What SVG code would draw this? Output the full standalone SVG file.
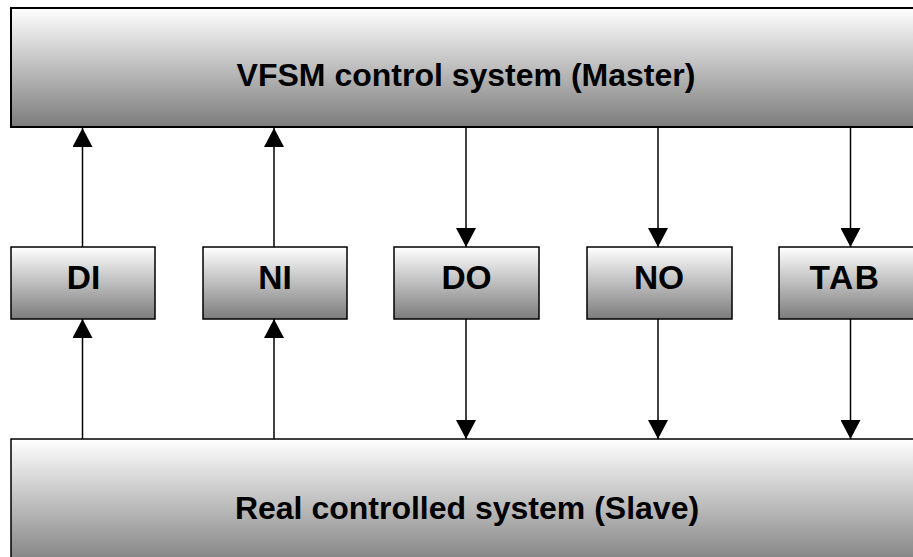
<svg xmlns="http://www.w3.org/2000/svg" width="913" height="557" viewBox="0 0 913 557">
  <defs>
    <linearGradient id="g" x1="0" y1="0" x2="0" y2="1">
      <stop offset="0" stop-color="#ffffff"/>
      <stop offset="1" stop-color="#7c7c7c"/>
    </linearGradient>
    <marker id="ah" viewBox="0 0 19 20" refX="19" refY="10" markerWidth="19" markerHeight="20" markerUnits="userSpaceOnUse" orient="auto">
      <path d="M0,0 L19,10 L0,20 z" fill="#000"/>
    </marker>
    <style>
      .box { fill: url(#g); stroke: #000; stroke-width: 1.5; }
      .big { fill: url(#g); stroke: #000; stroke-width: 2; }
      .lbl { font-family: "Liberation Sans", Arial, sans-serif; font-weight: bold; font-size: 32px; fill: #000; text-anchor: middle; }
      .sm { font-size: 33.5px; }
      .c { stroke: #000; stroke-width: 1.5; fill: none; marker-end: url(#ah); }
    </style>
  </defs>
  <rect width="913" height="557" fill="#fff"/>
  <g id="master">
    <rect class="big" x="11" y="8" width="920" height="119"/>
    <text class="lbl" x="466" y="86">VFSM control system (Master)</text>
  </g>
  <g id="slave">
    <rect class="box" x="11" y="439" width="920" height="130"/>
    <text class="lbl" x="467" y="519">Real controlled system (Slave)</text>
  </g>
  <g id="DI">
    <rect class="box" x="11" y="247" width="144" height="72"/>
    <text class="lbl sm" x="83.5" y="289">DI</text>
  </g>
  <g id="NI">
    <rect class="box" x="203" y="247" width="144" height="72"/>
    <text class="lbl sm" x="275" y="289">NI</text>
  </g>
  <g id="DO">
    <rect class="box" x="394" y="247" width="145" height="72"/>
    <text class="lbl sm" x="466.5" y="289">DO</text>
  </g>
  <g id="NO">
    <rect class="box" x="587" y="247" width="145" height="72"/>
    <text class="lbl sm" x="659" y="289">NO</text>
  </g>
  <g id="TAB">
    <rect class="box" x="779" y="247" width="145" height="72"/>
    <text class="lbl sm" x="845" y="289" letter-spacing="1.5">TAB</text>
  </g>
  <g id="connectors">
    <line class="c" x1="82.5" y1="247" x2="82.5" y2="128"/>
    <line class="c" x1="274" y1="247" x2="274" y2="128"/>
    <line class="c" x1="466" y1="128" x2="466" y2="247"/>
    <line class="c" x1="658" y1="128" x2="658" y2="247"/>
    <line class="c" x1="850.5" y1="128" x2="850.5" y2="247"/>
    <line class="c" x1="82.5" y1="439" x2="82.5" y2="319"/>
    <line class="c" x1="274" y1="439" x2="274" y2="319"/>
    <line class="c" x1="466" y1="319" x2="466" y2="439"/>
    <line class="c" x1="658" y1="319" x2="658" y2="439"/>
    <line class="c" x1="850.5" y1="319" x2="850.5" y2="439"/>
  </g>
</svg>
